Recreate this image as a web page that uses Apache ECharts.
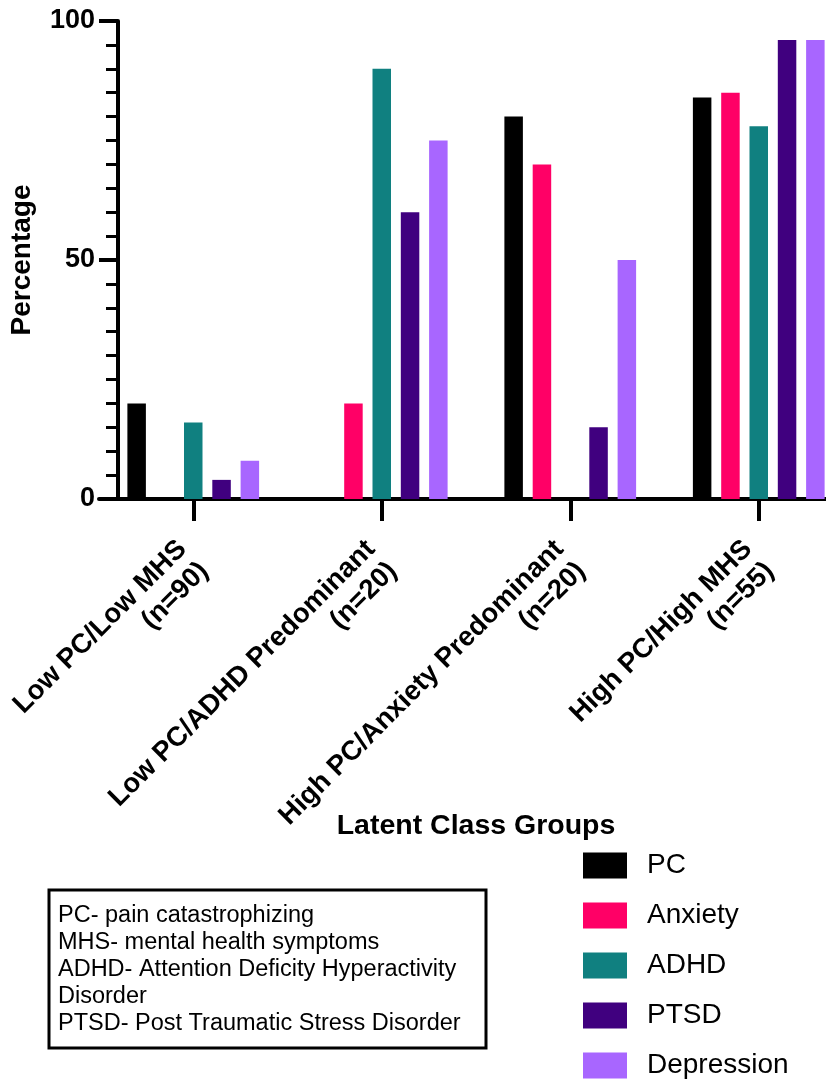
<!DOCTYPE html>
<html>
<head>
<meta charset="utf-8">
<script src="https://cdn.jsdelivr.net/npm/echarts@6/dist/echarts.min.js"></script>
<style>
html,body{margin:0;padding:0;background:#fff;}
#chart{width:826px;height:1083px;}
</style>
</head>
<body>
<div id="chart"></div>
<script>
const categories = ['Low PC/Low MHS\n(n=90)', 'Low PC/ADHD Predominant\n(n=20)', 'High PC/Anxiety Predominant\n(n=20)', 'High PC/High MHS\n(n=55)'];
const seriesNames = ['PC', 'Anxiety', 'ADHD', 'PTSD', 'Depression'];
const pc = [20, 0, 80, 84];
const anxiety = [0, 20, 70, 85];
const adhd = [16, 90, 0, 78];
const ptsd = [4, 60, 15, 96];
const depression = [8, 75, 50, 96];
const colors = ['#000000', '#FF0066', '#108080', '#40007F', '#A866FF'];
const yTicks = [0, 50, 100];
const abbreviations = [
  'PC- pain catastrophizing',
  'MHS- mental health symptoms',
  'ADHD- Attention Deficity Hyperactivity',
  'Disorder',
  'PTSD- Post Traumatic Stress Disorder'
];

const FONT = "'Liberation Sans', Arial, Helvetica, sans-serif";
const values = [pc, anxiety, adhd, ptsd, depression];

const chart = echarts.init(document.getElementById('chart'), null, {renderer: 'canvas'});
chart.setOption({
  animation: false,
  backgroundColor: '#ffffff',
  textStyle: {fontFamily: FONT},
  grid: {left: 99, width: 754, top: 21, bottom: 584, containLabel: false, outerBoundsMode: 'none'},
  legend: {
    orient: 'vertical',
    left: 583,
    top: 851.5,
    height: 240,
    padding: 0,
    icon: 'rect',
    itemWidth: 44,
    itemHeight: 26,
    itemGap: 22,
    selectedMode: false,
    data: seriesNames,
    textStyle: {fontFamily: FONT, fontSize: 28, color: '#000', padding: [0, 0, 0, 15], lineHeight: 26}
  },
  xAxis: {
    type: 'category',
    data: categories,
    name: 'Latent Class Groups',
    nameLocation: 'middle',
    nameGap: 313,
    nameMoveOverlap: false,
    nameTextStyle: {fontFamily: FONT, fontSize: 28.5, fontWeight: 'bold', color: '#000'},
    axisLine: {show: true, lineStyle: {color: '#000', width: 4}},
    axisTick: {show: true, alignWithLabel: true, length: 22, lineStyle: {color: '#000', width: 4}},
    axisLabel: {
      interval: 0, rotate: 45, margin: 57,
      fontFamily: FONT, fontSize: 27.5, fontWeight: 'bold', color: '#000', lineHeight: 31, align: 'right'
    },
    splitLine: {show: false}
  },
  yAxis: {
    type: 'value',
    min: 0, max: 100, interval: 50,
    offset: -19,
    name: 'Percentage',
    nameLocation: 'middle',
    nameGap: 82,
    nameRotate: 90,
    nameMoveOverlap: false,
    nameTextStyle: {fontFamily: FONT, fontSize: 28, fontWeight: 'bold', color: '#000'},
    axisLine: {show: true, lineStyle: {color: '#000', width: 4}},
    axisTick: {show: true, length: 19, lineStyle: {color: '#000', width: 4}},
    minorTick: {show: true, splitNumber: 10, length: 12, lineStyle: {color: '#000', width: 3}},
    axisLabel: {
      margin: 23, fontFamily: FONT, fontSize: 27, fontWeight: 'bold', color: '#000',
      formatter: function (v) { return yTicks.indexOf(v) >= 0 ? String(v) : ''; }
    },
    splitLine: {show: false},
    minorSplitLine: {show: false}
  },
  series: seriesNames.map(function (name, i) {
    return {
      name: name,
      type: 'bar',
      data: values[i],
      barWidth: 18.5,
      barGap: '53%',
      itemStyle: {color: colors[i]}
    };
  }),
  graphic: [
    {
      type: 'rect',
      shape: {x: 49, y: 890, width: 437, height: 158},
      style: {fill: '#fff', stroke: '#000', lineWidth: 3}
    },
    {
      type: 'text',
      left: 58,
      top: 902,
      style: {
        text: abbreviations.join('\n'),
        fontFamily: FONT,
        fontSize: 23.5,
        lineHeight: 27,
        fill: '#000'
      }
    }
  ]
});
</script>
</body>
</html>
